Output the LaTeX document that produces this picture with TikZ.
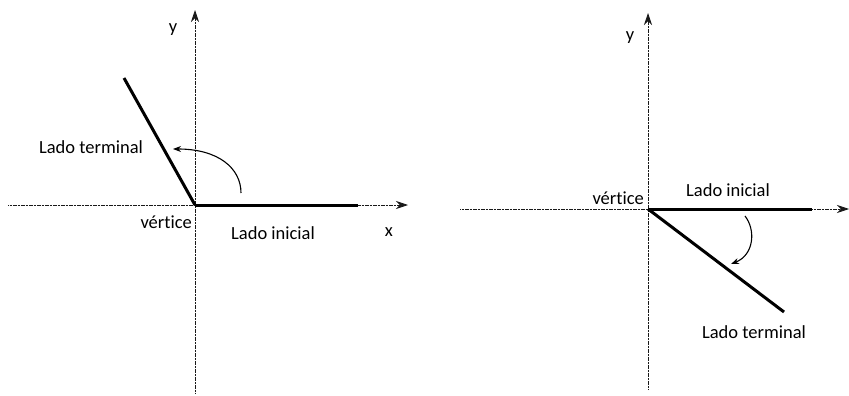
\documentclass[tikz,border=0pt]{standalone}
\usepackage{fontspec}
\setmainfont[RawFeature=-liga]{Carlito}
\usetikzlibrary{arrows.meta}
\begin{document}
\begin{tikzpicture}[x=1pt,y=-1pt,
  axis/.style={draw=black!90,line width=0.8pt,dash pattern=on 1.2pt off 0.4pt,-{Stealth[length=12pt,width=8pt,sep=0pt]}},
  side/.style={line width=3pt,line cap=butt},
  turn/.style={line width=1.1pt,-{Stealth[length=8pt,width=6pt]}},
  lbl/.style={font=\fontsize{18.5}{20}\selectfont,inner sep=0pt}]
\useasboundingbox (0,0) rectangle (849,396);
% ---- left diagram ----
\coordinate (O1) at (195,205);
\coordinate (xl1) at (8,205);
\coordinate (xr1) at (408,205);
\coordinate (yb1) at (195,394);
\coordinate (yt1) at (195,10);
\coordinate (I1) at (358,205);
\coordinate (T1) at (124,78);
\coordinate (a1s) at (241,193);
\coordinate (a1e) at (173,149);
\draw[axis] (xl1) -- (xr1);
\draw[axis] (yb1) -- (yt1);
\draw[side] (O1) -- (I1);
\draw[side] (O1) -- (T1);
\draw[turn] (a1s) .. controls (241,168) and (218,149) .. (a1e);
\node[lbl] (ylab1) at (173,30) {y};
\node[lbl] (xlab1) at (389,232) {x};
\node[lbl] (term1) at (91,147) {Lado terminal};
\node[lbl,anchor=east] (vert1) at (192,222) {vértice};
\node[lbl] (ini1) at (273,233) {Lado inicial};
% ---- right diagram ----
\coordinate (O2) at (648,209);
\coordinate (xl2) at (460,209);
\coordinate (xr2) at (849,209);
\coordinate (yb2) at (648,390);
\coordinate (yt2) at (648,13);
\coordinate (I2) at (812,209);
\coordinate (T2) at (784,312);
\coordinate (a2s) at (745,216);
\coordinate (a2e) at (731,264);
\draw[axis] (xl2) -- (xr2);
\draw[axis] (yb2) -- (yt2);
\draw[side] (O2) -- (I2);
\draw[side] (O2) -- (T2);
\draw[turn] (a2s) .. controls (756,230) and (754,255) .. (a2e);
\node[lbl] (ylab2) at (630,38) {y};
\node[lbl,anchor=east] (vert2) at (644,198) {vértice};
\node[lbl] (ini2) at (728,190) {Lado inicial};
\node[lbl] (term2) at (754,332) {Lado terminal};
\end{tikzpicture}
\end{document}
